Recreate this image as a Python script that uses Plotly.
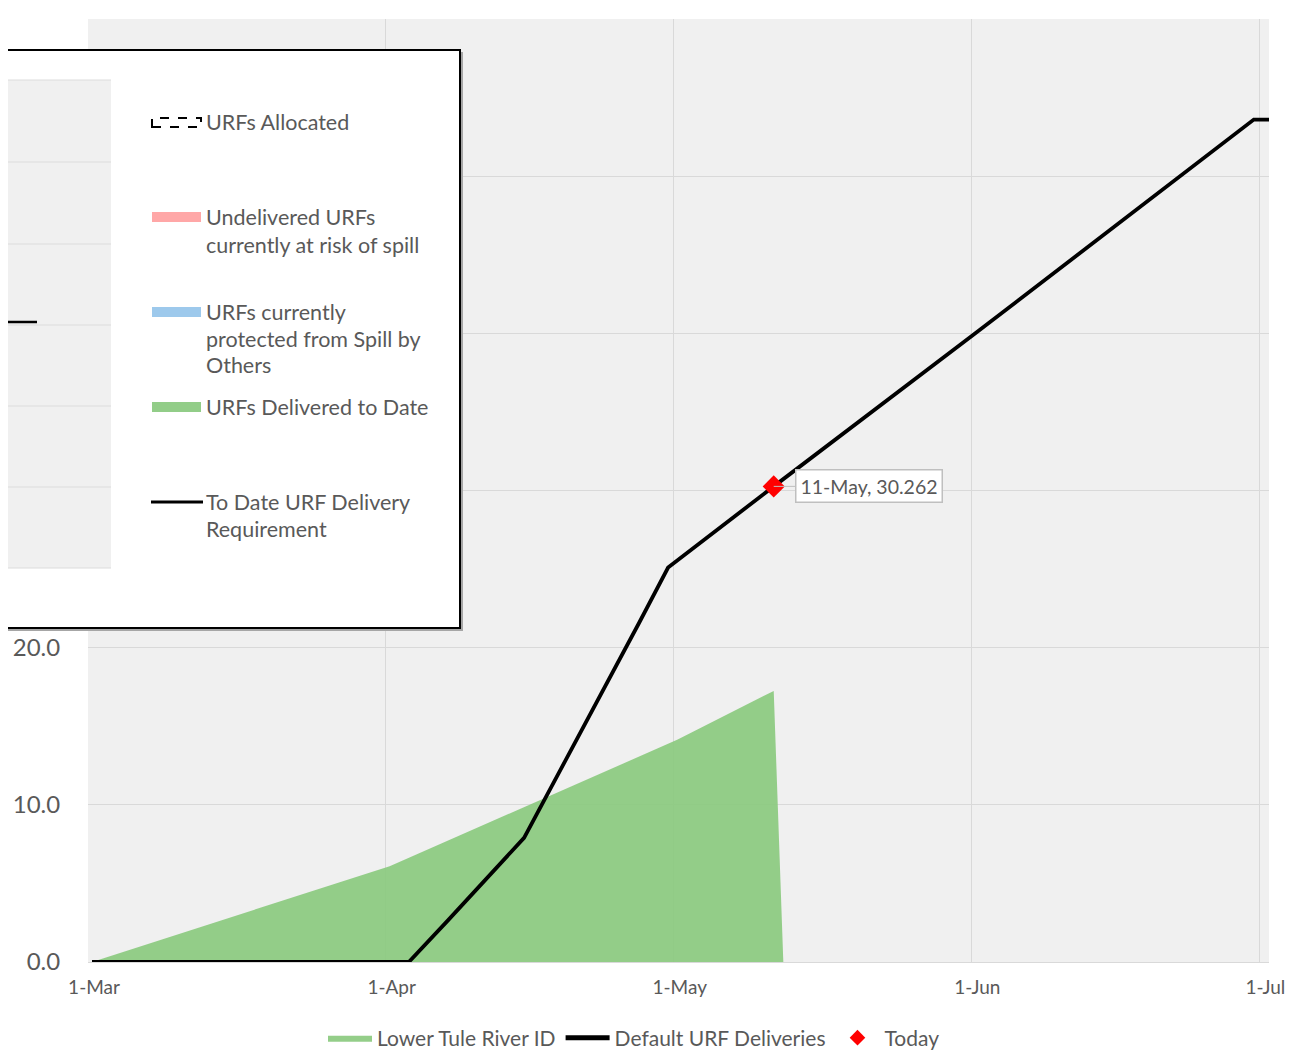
import plotly.graph_objects as go

# ---- data ----
green_dates = ["2023-03-01 10:00", "2023-04-01 10:00", "2023-05-01 10:00",
               "2023-05-11 10:00", "2023-05-12 10:00"]
green_values = [0.0, 6.1, 14.15, 17.25, 0.0]

req_dates = ["2023-03-01 10:00", "2023-04-03 10:00", "2023-04-07 10:00", "2023-04-15 10:00",
             "2023-04-27 10:00", "2023-04-30 10:00", "2023-05-11 10:00", "2023-06-01 10:00",
             "2023-06-30 10:00", "2023-07-02 10:00"]
req_values = [0.0, 0.0, 2.6, 7.9, 21.6, 25.1, 30.262, 40.0, 53.6, 53.6]

today_date = ["2023-05-11 10:00"]
today_value = [30.262]

month_ticks = ["2023-03-01", "2023-04-01", "2023-05-01", "2023-06-01", "2023-07-01"]
y_ticks = [0, 10, 20, 30, 40, 50, 60]

FONT = "Lato, 'Open Sans', sans-serif"
TXT = "#595959"

# page has an 8px body margin; work in screen pixels and shift
OFF = 8
W, H = 1295 - OFF, 1050 - OFF
L, R, T, B = 88, 1269, 19, 962  # plot area in screen pixels
def px(x):
    return (x - L) / (R - L)
def py(y):
    return (B - y) / (B - T)

fig = go.Figure()
fig.add_trace(go.Scatter(
    x=green_dates, y=green_values, mode="lines", name="Lower Tule River ID",
    line=dict(width=0, color="#92CD88"), fill="tozeroy",
    fillcolor="rgba(136,201,124,0.9)"))
fig.add_trace(go.Scatter(
    x=req_dates, y=req_values, mode="lines", name="Default URF Deliveries",
    line=dict(width=3.8, color="black")))
fig.add_trace(go.Scatter(
    x=today_date, y=today_value, mode="markers", name="Today",
    marker=dict(symbol="diamond", size=17, color="#FF0000")))

shapes = []
# overlay legend panel (shadow + box)
shapes.append(dict(type="rect", xref="paper", yref="paper", layer="above",
                   x0=px(-5), x1=px(463), y0=py(631), y1=py(52),
                   fillcolor="#a6a6a6", line=dict(width=0)))
shapes.append(dict(type="rect", xref="paper", yref="paper", layer="above",
                   x0=px(-5), x1=px(460), y0=py(628), y1=py(50),
                   fillcolor="white", line=dict(width=2, color="black")))
# partial inner chart area
shapes.append(dict(type="rect", xref="paper", yref="paper", layer="above",
                   x0=px(-5), x1=px(111), y0=py(568), y1=py(80),
                   fillcolor="#f0f0f0", line=dict(width=0)))
for yy in [80, 162, 244, 325, 406, 487, 568]:
    shapes.append(dict(type="line", xref="paper", yref="paper", layer="above",
                       x0=px(-5), x1=px(111), y0=py(yy), y1=py(yy),
                       line=dict(width=1, color="#dcdcdc")))
shapes.append(dict(type="line", xref="paper", yref="paper", layer="above",
                   x0=px(-5), x1=px(37), y0=py(322), y1=py(322),
                   line=dict(width=2.5, color="black")))
# legend samples
shapes.append(dict(type="rect", xref="paper", yref="paper", layer="above",
                   x0=px(152), x1=px(201), y0=py(127), y1=py(118),
                   fillcolor="white", line=dict(width=2, color="black", dash="dash")))
shapes.append(dict(type="rect", xref="paper", yref="paper", layer="above",
                   x0=px(152), x1=px(201), y0=py(222), y1=py(212),
                   fillcolor="#FFA7A7", line=dict(width=0)))
shapes.append(dict(type="rect", xref="paper", yref="paper", layer="above",
                   x0=px(152), x1=px(201), y0=py(317), y1=py(307),
                   fillcolor="#9DC9EC", line=dict(width=0)))
shapes.append(dict(type="rect", xref="paper", yref="paper", layer="above",
                   x0=px(152), x1=px(201), y0=py(412), y1=py(402),
                   fillcolor="#92CD88", line=dict(width=0)))
shapes.append(dict(type="line", xref="paper", yref="paper", layer="above",
                   x0=px(151), x1=px(203), y0=py(502), y1=py(502),
                   line=dict(width=3, color="black")))

annotations = []
legend_lines = [
    ("URFs Allocated", 122),
    ("Undelivered URFs", 217), ("currently at risk of spill", 245),
    ("URFs currently", 312), ("protected from Spill by", 339), ("Others", 365),
    ("URFs Delivered to Date", 407),
    ("To Date URF Delivery", 502), ("Requirement", 529),
]
for text, yy in legend_lines:
    annotations.append(dict(xref="paper", yref="paper", x=px(204), y=py(yy),
                            xanchor="left", yanchor="middle", text=text,
                            showarrow=False, font=dict(family=FONT, size=21.5, color=TXT)))

# data label for today
annotations.append(dict(x=today_date[0], y=today_value[0], xref="x", yref="y",
                        text="11-May, 30.262", showarrow=True, arrowhead=0,
                        arrowcolor="#bfbfbf", arrowwidth=1, ax=95, ay=0,
                        bgcolor="white", bordercolor="#bfbfbf", borderwidth=1.5,
                        borderpad=4, font=dict(family=FONT, size=19.5, color=TXT)))

fig.update_layout(
    width=W, height=H,
    margin=dict(l=L - OFF, r=W - (R - OFF), t=T - OFF, b=H - (B - OFF), autoexpand=False),
    paper_bgcolor="white", plot_bgcolor="#f0f0f0",
    font=dict(family=FONT, color=TXT),
    shapes=shapes, annotations=annotations,
    showlegend=True,
    legend=dict(orientation="h", x=px(634), xanchor="center", y=py(1038), yanchor="middle",
                font=dict(family=FONT, size=21, color=TXT), bgcolor="rgba(0,0,0,0)",
                itemwidth=44, itemsizing="constant", tracegroupgap=0),
)
fig.update_xaxes(type="date", range=["2023-03-01", "2023-07-02"],
                 tickvals=month_ticks, tickformat="%-d-%b", automargin=False,
                 showgrid=True, gridcolor="#d9d9d9", gridwidth=1,
                 showline=True, linecolor="#d9d9d9", linewidth=1,
                 ticks="outside", ticklen=8, tickcolor="rgba(0,0,0,0)", ticklabelshift=6,
                 tickfont=dict(family=FONT, size=19, color=TXT), zeroline=False)
fig.update_yaxes(range=[0, 60], tickvals=y_ticks, tickformat=".1f", automargin=False,
                 showgrid=True, gridcolor="#d9d9d9", gridwidth=1,
                 ticks="outside", ticklen=22, tickcolor="rgba(0,0,0,0)",
                 tickfont=dict(family=FONT, size=24, color=TXT), zeroline=False)

fig.write_html("out.html")
